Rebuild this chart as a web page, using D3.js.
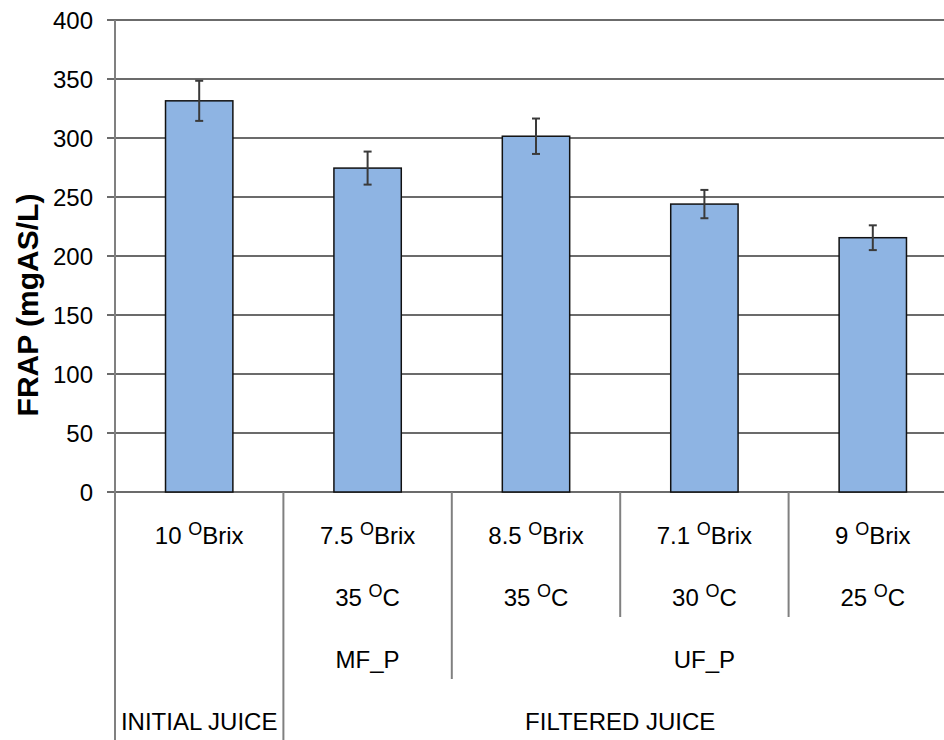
<!DOCTYPE html>
<html>
<head>
<meta charset="utf-8">
<script src="https://cdn.jsdelivr.net/npm/d3@7"></script>
<style>
  body { margin: 0; background: #fff; }
  text { font-family: "Liberation Sans", Arial, sans-serif; fill: #000; }
</style>
</head>
<body>
<div id="plot"></div>
<script>
// FRAP values per sample
var brix = ["10", "7.5", "8.5", "7.1", "9"];
var temps = [null, "35", "35", "30", "25"];
var frap = [331.5, 274.5, 301.5, 244, 215.5];
var frapErr = [17, 14, 15, 12, 10.5];
var yTicks = [0, 50, 100, 150, 200, 250, 300, 350, 400];
var processes = [{label: "MF_P", from: 1, to: 1}, {label: "UF_P", from: 2, to: 4}];
var juices = [{label: "INITIAL JUICE", from: 0, to: 0}, {label: "FILTERED JUICE", from: 1, to: 4}];

var width = 944;
var height = 740;

var svg = d3.select("div#plot")
  .append("svg")
  .attr("width", width)
  .attr("height", height);

var x = d3.scaleBand()
  .domain(d3.range(brix.length))
  .range([115, 957])
  .paddingInner(0.6)
  .paddingOuter(0.3);

var y = d3.scaleLinear()
  .domain([0, 400])
  .range([492, 20]);

var step = x.step();
var left = x.range()[0];
function edge(i) { return left + i * step; }

// gridlines + tick labels
svg.selectAll("line.grid")
  .data(yTicks)
  .enter()
  .append("line")
  .attr("class", "grid")
  .attr("x1", 107)
  .attr("x2", width)
  .attr("y1", function(d){ return y(d); })
  .attr("y2", function(d){ return y(d); })
  .style("stroke", "#3a3a3a")
  .style("stroke-width", 1.6);

svg.selectAll("text.tick")
  .data(yTicks)
  .enter()
  .append("text")
  .attr("class", "tick")
  .attr("x", 93)
  .attr("y", function(d){ return y(d); })
  .attr("dy", "0.36em")
  .attr("text-anchor", "end")
  .style("font-size", "24px")
  .text(function(d){ return d; });

// bars
svg.selectAll("rect.bar")
  .data(frap)
  .enter()
  .append("rect")
  .attr("class", "bar")
  .attr("x", function(d, i){ return x(i); })
  .attr("y", function(d){ return y(d); })
  .attr("width", x.bandwidth())
  .attr("height", function(d){ return y(0) - y(d); })
  .style("fill", "#8eb4e3")
  .style("stroke", "#111")
  .style("stroke-width", 1.5);

// error bars
var err = svg.selectAll("g.err")
  .data(frap)
  .enter()
  .append("g")
  .attr("class", "err")
  .style("stroke", "#3a3a3a")
  .style("stroke-width", 2);

err.append("line")
  .attr("x1", function(d, i){ return x(i) + x.bandwidth() / 2; })
  .attr("x2", function(d, i){ return x(i) + x.bandwidth() / 2; })
  .attr("y1", function(d, i){ return y(d + frapErr[i]); })
  .attr("y2", function(d, i){ return y(d - frapErr[i]); });

[1, -1].forEach(function(s){
  err.append("line")
    .attr("x1", function(d, i){ return x(i) + x.bandwidth() / 2 - 4; })
    .attr("x2", function(d, i){ return x(i) + x.bandwidth() / 2 + 4; })
    .attr("y1", function(d, i){ return y(d + s * frapErr[i]); })
    .attr("y2", function(d, i){ return y(d + s * frapErr[i]); });
});

// y axis line, continues down as the left border of the category table
svg.append("line")
  .attr("x1", left).attr("x2", left)
  .attr("y1", y(400)).attr("y2", height)
  .style("stroke", "#808080")
  .style("stroke-width", 2);

// category separators (length depends on the level they close)
var seps = [];
for (var i = 1; i < brix.length; i++) {
  var bottom = 617;
  processes.forEach(function(p){ if (p.from === i) bottom = 679; });
  juices.forEach(function(j){ if (j.from === i) bottom = height; });
  seps.push({i: i, bottom: bottom});
}
svg.selectAll("line.sep")
  .data(seps)
  .enter()
  .append("line")
  .attr("class", "sep")
  .attr("x1", function(d){ return edge(d.i); })
  .attr("x2", function(d){ return edge(d.i); })
  .attr("y1", y(0))
  .attr("y2", function(d){ return d.bottom; })
  .style("stroke", "#808080")
  .style("stroke-width", 2);

// row 1: Brix
var row1 = svg.selectAll("text.brix")
  .data(brix)
  .enter()
  .append("text")
  .attr("class", "brix")
  .attr("x", function(d, i){ return x(i) + x.bandwidth() / 2; })
  .attr("y", 544)
  .attr("text-anchor", "middle")
  .style("font-size", "24px");
row1.append("tspan").text(function(d){ return d + " "; });
row1.append("tspan").attr("dy", -9).style("font-size", "18px").text("O");
row1.append("tspan").attr("dy", 9).text("Brix");

// row 2: temperature
var row2 = svg.selectAll("text.temp")
  .data(temps.map(function(t, i){ return {t: t, i: i}; }).filter(function(d){ return d.t; }))
  .enter()
  .append("text")
  .attr("class", "temp")
  .attr("x", function(d){ return x(d.i) + x.bandwidth() / 2; })
  .attr("y", 606)
  .attr("text-anchor", "middle")
  .style("font-size", "24px");
row2.append("tspan").text(function(d){ return d.t + " "; });
row2.append("tspan").attr("dy", -9).style("font-size", "18px").text("O");
row2.append("tspan").attr("dy", 9).text("C");

// row 3: process
svg.selectAll("text.proc")
  .data(processes)
  .enter()
  .append("text")
  .attr("class", "proc")
  .attr("x", function(d){ return (edge(d.from) + edge(d.to + 1)) / 2; })
  .attr("y", 668)
  .attr("text-anchor", "middle")
  .style("font-size", "24px")
  .text(function(d){ return d.label; });

// row 4: juice
svg.selectAll("text.juice")
  .data(juices)
  .enter()
  .append("text")
  .attr("class", "juice")
  .attr("x", function(d){ return (edge(d.from) + edge(d.to + 1)) / 2; })
  .attr("y", 730)
  .attr("text-anchor", "middle")
  .style("font-size", "24px")
  .text(function(d){ return d.label; });

// y label
svg.append("text")
  .attr("transform", "translate(38,305) rotate(-90)")
  .attr("text-anchor", "middle")
  .style("font-size", "30px")
  .style("font-weight", "bold")
  .text("FRAP (mgAS/L)");
</script>
</body>
</html>
